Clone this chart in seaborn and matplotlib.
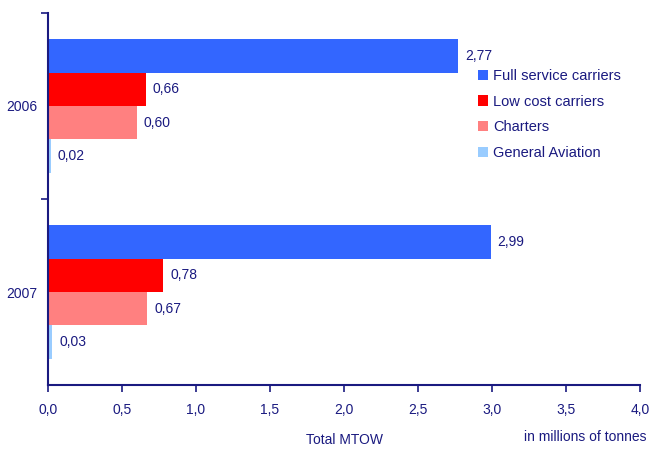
import pandas as pd
import seaborn as sns
import matplotlib.pyplot as plt
from matplotlib.ticker import FuncFormatter, FixedLocator

years = ['2006', '2007']
segments = ['Full service carriers', 'Low cost carriers', 'Charters', 'General Aviation']
values_2006 = [2.77, 0.66, 0.60, 0.02]
values_2007 = [2.99, 0.78, 0.67, 0.03]
colors = ['#3366FF', '#FF0000', '#FF8080', '#99CCFF']

navy = '#1A1A80'

rows = []
for year, vals in zip(years, [values_2006, values_2007]):
    for seg, v in zip(segments, vals):
        rows.append({'Year': year, 'Segment': seg, 'MTOW': v})
data = pd.DataFrame(rows)

sns.set_style('white')
plt.rcParams['font.family'] = ['Liberation Sans', 'DejaVu Sans']
plt.rcParams['font.size'] = 10

fig = plt.figure(figsize=(6.51, 4.49), dpi=100)
ax = fig.add_axes([48 / 651, 1 - 385 / 449, 592 / 651, 372 / 449])

sns.barplot(data=data, x='MTOW', y='Year', hue='Segment', hue_order=segments,
            order=years, palette=colors, orient='h', width=0.72,
            saturation=1, linewidth=0, ax=ax, legend=True)

for container in ax.containers:
    ax.bar_label(container, labels=[f'{b.get_width():.2f}'.replace('.', ',') for b in container],
                 padding=5, color=navy, fontsize=10)

ax.set_xlim(0, 4.0)
ax.set_ylim(1.5, -0.5)
ax.set_xticks([0, 0.5, 1.0, 1.5, 2.0, 2.5, 3.0, 3.5, 4.0])
ax.xaxis.set_major_formatter(FuncFormatter(lambda v, p: f'{v:.1f}'.replace('.', ',')))
ax.tick_params(axis='x', direction='out', length=5, width=1.2, color=navy,
               labelcolor=navy, labelsize=10, pad=8, bottom=True)
ax.tick_params(axis='y', which='major', length=0, labelcolor=navy, labelsize=10, pad=8)
ax.yaxis.set_minor_locator(FixedLocator([-0.5, 0.5]))
ax.tick_params(axis='y', which='minor', direction='out', length=5, width=1.2,
               color=navy, left=True)

for side in ['top', 'right']:
    ax.spines[side].set_visible(False)
for side in ['left', 'bottom']:
    ax.spines[side].set_color(navy)
    ax.spines[side].set_linewidth(1.5)

ax.set_ylabel('')
ax.set_xlabel('')
fig.text(344 / 651, 1 - 440 / 449, 'Total MTOW', color=navy,
         fontsize=10, ha='center', va='center')
fig.text(585 / 651, 1 - 437 / 449, 'in millions of tonnes', color=navy,
         fontsize=10, ha='center', va='center')

leg = ax.legend(loc='upper left', bbox_to_anchor=(472 / 651, 1 - 63 / 449),
                bbox_transform=fig.transFigure, frameon=False, fontsize=10.5,
                handlelength=0.7, handleheight=0.7, handletextpad=0.35,
                labelspacing=0.8, borderaxespad=0)
for t in leg.get_texts():
    t.set_color(navy)

fig.savefig('out.png', dpi=100)
